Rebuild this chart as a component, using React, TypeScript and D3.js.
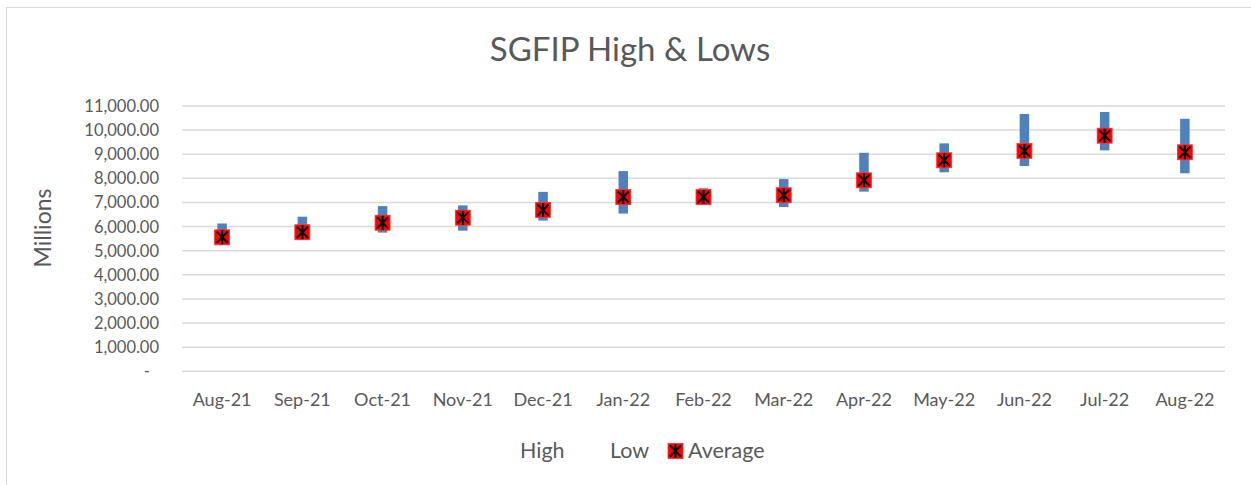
import { useEffect, useRef } from "react";
import * as d3 from "d3";

const months = [
  "Aug-21", "Sep-21", "Oct-21", "Nov-21", "Dec-21", "Jan-22", "Feb-22",
  "Mar-22", "Apr-22", "May-22", "Jun-22", "Jul-22", "Aug-22",
];
const highs = [6130, 6410, 6850, 6880, 7440, 8300, 7590, 7970, 9060, 9450, 10670, 10750, 10470];
const lows = [5500, 5600, 5750, 5830, 6250, 6540, 7100, 6810, 7450, 8250, 8510, 9160, 8210];
const averages = [5555, 5765, 6160, 6370, 6690, 7225, 7225, 7300, 7920, 8750, 9135, 9770, 9080];
const yTicks = [0, 1000, 2000, 3000, 4000, 5000, 6000, 7000, 8000, 9000, 10000, 11000];

const FONT = "Lato, 'Open Sans', sans-serif";
const TEXT = "#595959";

export default function App() {
  const ref = useRef<SVGSVGElement>(null);

  useEffect(() => {
    const svg = d3.select(ref.current);
    svg.selectAll("*").remove();

    const width = 1251;
    const height = 485;
    const left = 182;
    const right = 1225;
    const top = 106;
    const bottom = 371.3;

    const x = d3.scaleBand().domain(months).range([left, right]).padding(0);
    const y = d3.scaleLinear().domain([0, 11000]).range([bottom, top]);

    svg
      .append("rect")
      .attr("x", 6.5)
      .attr("y", 7.5)
      .attr("width", width + 20)
      .attr("height", height + 20)
      .attr("fill", "white")
      .attr("stroke", "#d9d9d9");

    svg
      .append("text")
      .attr("x", 630)
      .attr("y", 61)
      .attr("text-anchor", "middle")
      .attr("font-family", FONT)
      .attr("font-size", 33)
      .attr("fill", TEXT)
      .text("SGFIP High & Lows");

    // gridlines
    svg
      .selectAll("line.grid")
      .data(yTicks)
      .enter()
      .append("line")
      .attr("x1", left)
      .attr("x2", right)
      .attr("y1", (d) => y(d))
      .attr("y2", (d) => y(d))
      .attr("stroke", "#d9d9d9")
      .attr("stroke-width", 1.5);

    const fmt = d3.format(",.2f");
    svg
      .selectAll("text.ytick")
      .data(yTicks)
      .enter()
      .append("text")
      .attr("x", (d) => (d === 0 ? 150 : 159))
      .attr("y", (d) => y(d) + 6)
      .attr("text-anchor", "end")
      .attr("font-family", FONT)
      .attr("font-size", 16.5)
      .attr("fill", TEXT)
      .text((d) => (d === 0 ? "-" : fmt(d)));

    svg
      .selectAll("text.xtick")
      .data(months)
      .enter()
      .append("text")
      .attr("x", (d) => x(d)! + x.bandwidth() / 2)
      .attr("y", 405.5)
      .attr("text-anchor", "middle")
      .attr("font-family", FONT)
      .attr("font-size", 18)
      .attr("fill", TEXT)
      .text((d) => d);

    svg
      .append("text")
      .attr("transform", "translate(51,228) rotate(-90)")
      .attr("text-anchor", "middle")
      .attr("font-family", FONT)
      .attr("font-size", 23)
      .attr("fill", TEXT)
      .text("Millions");

    // high-low bars
    const barW = 9.5;
    svg
      .selectAll("rect.hl")
      .data(months)
      .enter()
      .append("rect")
      .attr("x", (d) => x(d)! + x.bandwidth() / 2 - barW / 2)
      .attr("y", (_, i) => y(highs[i]))
      .attr("width", barW)
      .attr("height", (_, i) => y(lows[i]) - y(highs[i]))
      .attr("fill", "#4f81bd");

    const drawMarker = (g: d3.Selection<SVGGElement, unknown, null, undefined>) => {
      g.append("rect")
        .attr("x", -7.5)
        .attr("y", -7.5)
        .attr("width", 15)
        .attr("height", 15)
        .attr("fill", "#ff0000")
        .attr("stroke", "#ff3030")
        .attr("stroke-width", 0.8);
      g.append("path")
        .attr("d", "M-5.5,-5.5L5.5,5.5M5.5,-5.5L-5.5,5.5M0,-7L0,7")
        .attr("stroke", "#000")
        .attr("stroke-width", 2)
        .attr("fill", "none");
    };

    months.forEach((m, i) => {
      const g = svg
        .append("g")
        .attr("transform", `translate(${x(m)! + x.bandwidth() / 2},${y(averages[i])})`);
      drawMarker(g as any);
    });

    // legend
    const legend = svg.append("g").attr("font-family", FONT).attr("font-size", 21.5).attr("fill", TEXT);
    legend.append("text").attr("x", 520).attr("y", 458).text("High");
    legend.append("text").attr("x", 610).attr("y", 458).text("Low");
    const lg = legend.append("g").attr("transform", "translate(675.5,451)");
    drawMarker(lg as any);
    legend.append("text").attr("x", 688).attr("y", 458).text("Average");
  }, []);

  return (
    <svg
      ref={ref}
      width={1251}
      height={485}
      style={{ position: "absolute", left: 0, top: 0, display: "block" }}
    />
  );
}
